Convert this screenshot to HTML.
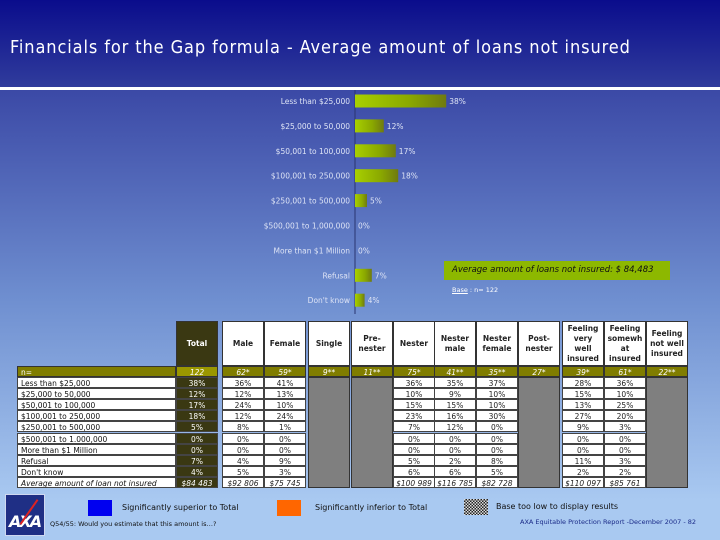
<!DOCTYPE html>
<html><head><meta charset="utf-8">
<style>
*{margin:0;padding:0;box-sizing:border-box}
body{width:720px;height:540px;overflow:hidden;position:relative;font-family:"DejaVu Sans","Liberation Sans",sans-serif;background:linear-gradient(#3b49a6 90px,#6f8fd0 300px,#a9c9f1 500px)}
#hdr{position:absolute;left:0;top:0;width:720px;height:87px;background:linear-gradient(#0a0c8c,#303c9c)}
#hdr h1{position:absolute;left:10px;top:37px;font-size:18px;font-weight:normal;color:#fff;letter-spacing:0.9px;font-family:"DejaVu Sans Condensed","DejaVu Sans",sans-serif;font-stretch:condensed}
#line{position:absolute;left:0;top:87px;width:720px;height:3px;background:#fff}
.c{position:absolute;font-size:7.5px;text-align:center;line-height:11px;white-space:nowrap;overflow:hidden}
.abs{position:absolute}
</style></head><body>
<div id="hdr"><h1>Financials for the Gap formula - Average amount of loans not insured</h1></div>
<div id="line"></div>
<svg id="chart" class="abs" style="left:0;top:88px" width="720" height="230">
<defs><linearGradient id="bg" x1="0" x2="1"><stop offset="0" stop-color="#a8d000"/><stop offset="0.6" stop-color="#8aa800"/><stop offset="1" stop-color="#6f7a10"/></linearGradient></defs>
</svg>
<div class="abs" style="left:444px;top:261px;width:226px;height:19px;background:#8db800;font-size:8.5px;font-style:italic;line-height:19px;padding-left:8px;color:#111">Average amount of loans not insured: $ 84,483</div>
<div class="abs" style="left:452px;top:286px;font-size:6.5px;color:#fff"><u>Base</u> : n= 122</div>
<div id="tbl"></div>
<div class="abs" style="left:5px;top:494px;width:40px;height:42px;background:#1f2f85;border:1px solid #cfd8f0"><span style="position:absolute;left:3px;top:17px;color:#fff;font-weight:bold;font-style:italic;font-size:16px;letter-spacing:-2px">AXA</span><span style="position:absolute;left:22px;top:2px;width:2px;height:30px;background:#d22;transform:rotate(35deg)"></span></div>
<div class="abs" style="left:88px;top:500px;width:24px;height:16px;background:#0000f0"></div>
<div class="abs" style="left:122px;top:503px;font-size:8px;color:#111">Significantly superior to Total</div>
<div class="abs" style="left:277px;top:500px;width:24px;height:16px;background:#ff6600"></div>
<div class="abs" style="left:315px;top:503px;font-size:8px;color:#111">Significantly inferior to Total</div>
<div class="abs" style="left:464px;top:499px;width:24px;height:16px;background:repeating-conic-gradient(#222 0 25%,#ddd 0 50%) 0 0/3px 3px"></div>
<div class="abs" style="left:496px;top:502px;font-size:8px;color:#111">Base too low to display results</div>
<div class="abs" style="left:50px;top:520px;font-size:6.5px;color:#111">Q54/55: Would you estimate that this amount is…?</div>
<div class="abs" style="left:520px;top:518px;font-size:6.5px;color:#1a2a88">AXA Equitable Protection Report -December 2007 - 82</div>
<script>
const categories=["Less than $25,000","$25,000 to 50,000","$50,001 to 100,000","$100,001 to 250,000","$250,001 to 500,000","$500,001 to 1,000,000","More than $1 Million","Refusal","Don't know"];
const values=[38,12,17,18,5,0,0,7,4];
const valueLabels=["38%","12%","17%","18%","5%","0%","0%","7%","4%"];
const NS="http://www.w3.org/2000/svg";
const svg=document.getElementById('chart');
const x0=355,xs=v=>v*2.4;
const yc=i=>13+i*24.9;
function mk(t,a){const e=document.createElementNS(NS,t);for(const k in a)e.setAttribute(k,a[k]);svg.appendChild(e);return e;}
const ax=mk('line',{x1:x0,x2:x0,y1:2,y2:226,stroke:'#2a3570','stroke-width':1});


categories.forEach((c,i)=>{
 const t=mk('text',{x:350,y:yc(i)+3,'text-anchor':'end','font-size':7.5,fill:'#dde3f5','font-family':'DejaVu Sans,sans-serif'});t.textContent=c;
 
 
 const b=mk('rect',{x:x0,y:yc(i)-6.5,width:xs(values[i]),height:13,fill:'url(#bg)'});
 
 
 const v=mk('text',{x:x0+xs(values[i])+3,y:yc(i)+3,'font-size':7.5,fill:'#dde3f5','font-family':'DejaVu Sans,sans-serif'});v.textContent=valueLabels[i];
 
 
});
const rowLabels=["Less than $25,000","$25,000 to 50,000","$50,001 to 100,000","$100,001 to 250,000","$250,001 to 500,000","$500,001 to 1.000,000","More than $1 Million","Refusal","Don't know","Average amount of loan not insured"];
const colHeads=["Total","Male","Female","Single","Pre-<br>nester","Nester","Nester<br>male","Nester<br>female","Post-<br>nester","Feeling<br>very<br>well<br>insured","Feeling<br>somewh<br>at<br>insured","Feeling<br>not well<br>insured"];
const colN=["122","62*","59*","9**","11**","75*","41**","35**","27*","39*","61*","22**"];
const colVals=[
["38%","12%","17%","18%","5%","0%","0%","7%","4%","$84 483"],
["36%","12%","24%","12%","8%","0%","0%","4%","5%","$92 806"],
["41%","13%","10%","24%","1%","0%","0%","9%","3%","$75 745"],
null,null,
["36%","10%","15%","23%","7%","0%","0%","5%","6%","$100 989"],
["35%","9%","15%","16%","12%","0%","0%","2%","6%","$116 785"],
["37%","10%","10%","30%","0%","0%","0%","8%","5%","$82 728"],
null,
["28%","15%","13%","27%","9%","0%","0%","11%","2%","$110 097"],
["36%","10%","25%","20%","3%","0%","0%","3%","2%","$85 761"],
null];
const colX=[176,222,264,308,351,393,434,476,518,562,604,646];
const cw=42;
const tbl=document.getElementById('tbl');
function cell(x,y,w,h,html,st){const d=document.createElement('div');d.className='c';d.style.cssText=`left:${x}px;top:${y}px;width:${w}px;height:${h}px;`+st;d.innerHTML=html;tbl.appendChild(d);return d;}
const hTop=321,nTop=366,rTop=377,rh=11.1;
let n=cell(17,nTop,159,11,'n=','background:#807d00;color:#fff;text-align:left;padding-left:3px;border:1px solid #333');


rowLabels.forEach((r,i)=>{
 const d=cell(17,rTop+i*rh,159,rh,r,'background:#fff;color:#111;text-align:left;padding-left:3px;border:1px solid #444;'+(i==9?'font-style:italic;':''));
 
 
});
colHeads.forEach((h,j)=>{
 const x=colX[j],dark=j==0;
 const hd=cell(x,hTop,cw,45,'<div style="display:flex;height:100%;align-items:center;justify-content:center;line-height:10px;font-weight:bold">'+h+'</div>',(dark?'background:#3a3812;color:#fff;':'background:#fff;color:#222;')+'border:1px solid #333;');
 
 
 const nc=cell(x,nTop,cw,11,colN[j],'background:'+(dark?'#9a9700':'#807d00')+';color:#fff;font-style:italic;border:1px solid #333');
 
 
 const vals=colVals[j];
 if(!vals){
  const g=cell(x,rTop,cw,rh*10,'','background:#7f7f7f;border:1px solid #333');
  
  
 } else vals.forEach((v,i)=>{
  const d=cell(x,rTop+i*rh,cw,rh,v,(dark?'background:#3a3812;color:#fff;':'background:#fff;color:#222;')+'border:1px solid #444;'+(i==9?'font-style:italic;':''));
  
  
 });
});
</script>
</body></html>
